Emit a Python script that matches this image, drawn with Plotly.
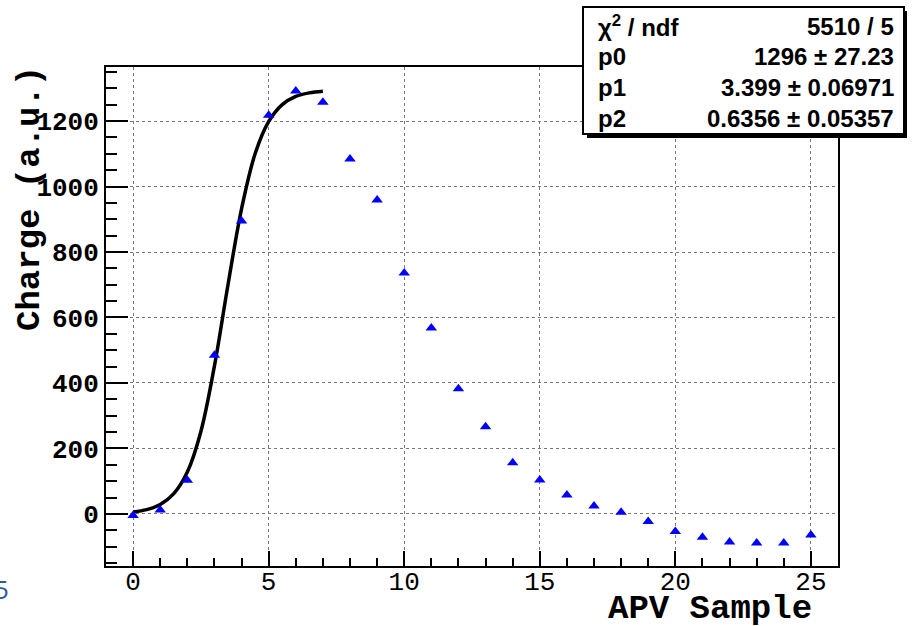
import plotly.graph_objects as go

# Data points (APV sample vs charge)
samples = list(range(26))
charge = [-5, 12, 103, 485, 895, 1218, 1292, 1257, 1084, 959, 736, 568, 382,
          266, 156, 104, 58, 24, 5, -23, -54, -71, -86, -89, -89, -64]

# Fit curve
fit_x = [0, 0.5, 1, 1.5, 2, 2.5, 3, 3.5, 4, 4.5, 5, 5.5, 6, 6.5, 7]
fit_y = [6, 13, 29, 62, 128, 252, 452, 700, 932, 1100, 1198, 1250, 1275, 1286, 1291]

stat_labels = ["χ<sup>2</sup> / ndf", "p0", "p1", "p2"]
stat_values = ["5510 / 5", "1296 ± 27.23", "3.399 ± 0.06971", "0.6356 ± 0.05357"]

W, H = 912, 626
L, R, T, B = 106, 74, 67, 60
PW, PH = W - L - R, H - T - B

def px(x):
    return (x - L) / PW

def py(y):
    return (H - B - y) / PH

fig = go.Figure()
fig.add_trace(go.Scatter(x=fit_x, y=fit_y, mode="lines", line=dict(color="black", width=3.5, shape="spline"),
                         showlegend=False, hoverinfo="skip"))
fig.add_trace(go.Scatter(x=samples, y=charge, mode="markers",
                         marker=dict(symbol="triangle-up", size=10, color="#0000ff"),
                         showlegend=False))

mono = "Liberation Mono"
fig.update_layout(
    width=W, height=H,
    margin=dict(l=L, r=R, t=T, b=B, autoexpand=False),
    paper_bgcolor="white", plot_bgcolor="white",
    xaxis=dict(range=[-1, 26], tick0=0, dtick=5, ticks="inside", ticklen=15, tickwidth=2, tickcolor="black",
               minor=dict(dtick=1, ticks="inside", ticklen=8, tickwidth=2, tickcolor="black", showgrid=False),
               showline=True, linecolor="black", linewidth=2, mirror=True,
               showgrid=True, gridcolor="#777777", griddash="dot", gridwidth=1, zeroline=False,
               ticklabelstandoff=-9,
               tickfont=dict(family=mono, size=26, color="black")),
    yaxis=dict(range=[-159, 1365], tick0=0, dtick=200, ticks="inside", ticklen=22, tickwidth=2, tickcolor="black",
               minor=dict(dtick=50, ticks="inside", ticklen=11, tickwidth=2, tickcolor="black", showgrid=False),
               showline=True, linecolor="black", linewidth=2, mirror=True,
               showgrid=True, gridcolor="#777777", griddash="dot", gridwidth=1, zeroline=False,
               tickfont=dict(family=mono, size=26, color="black", weight="bold")),
)

# Axis titles
fig.add_annotation(text="Charge (a.u.)", xref="paper", yref="paper", x=px(30), y=py(199),
                   xanchor="center", yanchor="middle", textangle=-90, showarrow=False,
                   font=dict(family=mono, size=34, color="black", weight="bold"))
fig.add_annotation(text="APV Sample", xref="paper", yref="paper", x=px(710), y=py(609),
                   xanchor="center", yanchor="middle", showarrow=False,
                   font=dict(family=mono, size=34, color="black", weight="bold"))

# Stats box with shadow
fig.add_shape(type="rect", xref="paper", yref="paper", x0=px(587), x1=px(907), y0=py(138), y1=py(11),
              fillcolor="black", line=dict(width=0), layer="above")
fig.add_shape(type="rect", xref="paper", yref="paper", x0=px(583), x1=px(904), y0=py(134), y1=py(7),
              fillcolor="white", line=dict(color="black", width=2), layer="above")
rows = [26, 57, 87, 118]
for lab, val, yy in zip(stat_labels, stat_values, rows):
    fig.add_annotation(text=lab, xref="paper", yref="paper", x=px(596), y=py(yy), xanchor="left",
                       yanchor="middle", showarrow=False,
                       font=dict(family="Liberation Sans", size=24, color="black", weight="bold"))
    fig.add_annotation(text=val, xref="paper", yref="paper", x=px(896), y=py(yy), xanchor="right",
                       yanchor="middle", showarrow=False,
                       font=dict(family="Liberation Sans", size=24, color="black", weight="bold"))

# Partial fragment at bottom left
fig.add_annotation(text="5", xref="paper", yref="paper", x=px(11), y=py(589), xanchor="right",
                   yanchor="middle", showarrow=False,
                   font=dict(family="Open Sans", size=26, color="#2e5b97"))

fig.write_html("out.html")
